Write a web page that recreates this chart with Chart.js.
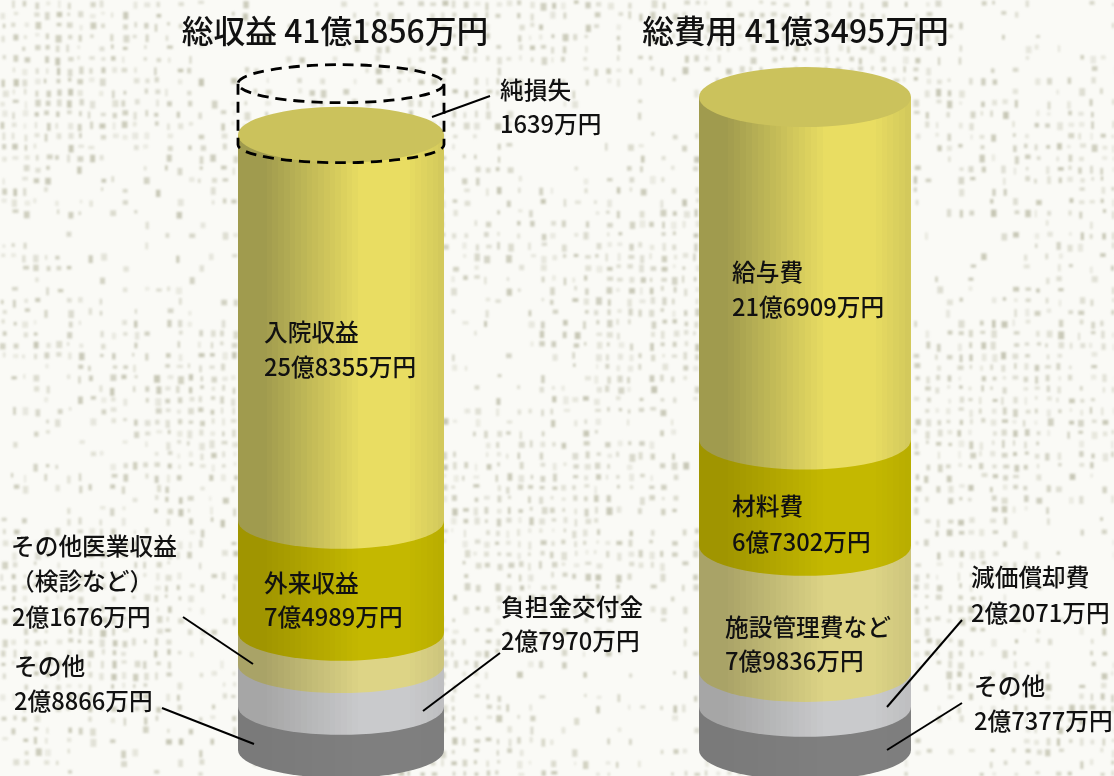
<!DOCTYPE html>
<html lang="ja">
<head>
<meta charset="utf-8">
<title>総収益と総費用</title>
<script src="https://cdn.jsdelivr.net/npm/chart.js@4"></script>
<style>
    html, body { margin: 0; padding: 0; background: #fafaf6; overflow: hidden; }
    canvas { display: block; }
</style>
</head>
<body>
<canvas id="cylinderChart" width="1114" height="776"></canvas>
<script>
// values in 万円, listed from the bottom of each cylinder upward
const categories = ['総収益', '総費用'];
const revenueNames = ['その他', '負担金交付金', 'その他医業収益', '外来収益', '入院収益', '純損失'];
const revenueValues = [28866, 27970, 21676, 74989, 258355, 1639];
const costNames = ['その他', '減価償却費', '施設管理費など', '材料費', '給与費'];
const costValues = [27377, 22071, 79836, 67302, 216909];

const titles = ['総収益 41億1856万円', '総費用 41億3495万円'];
const titleX = [335, 795.5];

const revenueColors = ['#7f7f7f', '#c9cacc', '#ddd486', '#c4b800', '#e9dd62', 'transparent'];
const revenueDark = ['#7a7a7a', '#a6a6a6', '#a9a367', '#a09500', '#a09b4e', 'transparent'];
const costColors = ['#7f7f7f', '#c9cacc', '#ddd486', '#c4b800', '#e9dd62'];
const costDark = ['#7a7a7a', '#a6a6a6', '#a9a367', '#a09500', '#a09b4e'];

// text, left edge, vertical centre
const labels = [
    ['入院収益', 264, 332], ['25億8355万円', 264, 367],
    ['外来収益', 264, 583], ['7億4989万円', 264, 617],
    ['その他医業収益', 11, 546], ['（検診など）', 11, 581], ['2億1676万円', 12, 617],
    ['その他', 14, 666], ['2億8866万円', 14, 701],
    ['純損失', 500, 90], ['1639万円', 500, 124],
    ['負担金交付金', 501, 607], ['2億7970万円', 501, 641],
    ['給与費', 732, 272], ['21億6909万円', 732, 307],
    ['材料費', 732, 506], ['6億7302万円', 732, 542],
    ['施設管理費など', 725, 627], ['7億9836万円', 725, 661],
    ['減価償却費', 971, 577], ['2億2071万円', 971, 613],
    ['その他', 974, 686], ['2億7377万円', 974, 721]
];

const leaders = [
    [432, 117, 490, 96],
    [183, 617, 253, 664],
    [162, 708, 254, 744],
    [500, 653, 423, 711],
    [962, 620, 887, 707],
    [962, 703, 887, 750]
];

const capRadius = [28, 30];
const capColor = '#cbc25c';
const fontName = '"Noto Sans CJK JP", "Noto Sans", sans-serif';

function makeDatasets(names, values, colors, darks, column, axisId, thickness) {
    return names.map((name, i) => ({
        label: name,
        data: column === 0 ? [values[i], null] : [null, values[i]],
        yAxisID: axisId,
        stack: 'cylinder',
        barThickness: thickness,
        backgroundColor: colors[i],
        darkColor: darks[i],
        column: column
    }));
}

function mixColor(a, b, t) {
    const pa = parseInt(a.slice(1), 16), pb = parseInt(b.slice(1), 16);
    const c = [16, 8, 0].map(s => Math.round(((pa >> s) & 255) * (1 - t) + ((pb >> s) & 255) * t));
    return `rgb(${c[0]},${c[1]},${c[2]})`;
}

// how far the side of the cylinder is lit, 0 at the shaded edge
function lightAt(f) {
    if (f < 0.13) return 0;
    if (f < 0.6) return (f - 0.13) / 0.47;
    if (f < 0.82) return 1;
    return 1 - (f - 0.82) * 1.8;
}

function sideGradient(ctx, x0, x1, dark, light) {
    const g = ctx.createLinearGradient(x0, 0, x1, 0);
    const bands = 36;
    for (let i = 0; i < bands; i++) {
        const color = mixColor(dark, light, lightAt((i + 0.5) / bands));
        g.addColorStop(i / bands, color);
        g.addColorStop((i + 1) / bands, color);
    }
    return g;
}

// seeded so every render gives the same weave
function makeLinen(width, height) {
    const cloth = document.createElement('canvas');
    cloth.width = width;
    cloth.height = height;
    const c = cloth.getContext('2d');
    let seed = 20240;
    const next = () => {
        seed = (seed + 0x6D2B79F5) | 0;
        let t = Math.imul(seed ^ (seed >>> 15), 1 | seed);
        t = (t + Math.imul(t ^ (t >>> 7), 61 | t)) ^ t;
        return ((t ^ (t >>> 14)) >>> 0) / 4294967296;
    };
    for (let y = 0; y < height; y += 11) {
        for (let x = 0; x < width; x += 11) {
            // slow drift makes patches of heavier and lighter cloth
            const patch = 0.55 + 0.25 * Math.sin(x / 61 + y / 97) + 0.2 * Math.sin(y / 43 - x / 129);
            const a = next(), w = 2 + next() * 4, h = 3 + next() * 5, ox = next() * 3, oy = next() * 3, k = next();
            if (a > patch) continue;
            c.fillStyle = `rgba(176,176,152,${(0.2 + k * 0.5).toFixed(3)})`;
            c.fillRect(x + ox, y + oy, w, h);
        }
    }
    return cloth;
}

const linenBackground = {
    id: 'linenBackground',
    beforeDraw(chart) {
        const ctx = chart.ctx;
        ctx.save();
        ctx.fillStyle = '#fafaf6';
        ctx.fillRect(0, 0, chart.width, chart.height);
        ctx.filter = 'blur(0.8px)';
        ctx.drawImage(makeLinen(chart.width, chart.height), 0, 0);
        ctx.restore();
    }
};

const cylinderDraw = {
    id: 'cylinderDraw',
    // the flat rectangles are replaced by the curved segments below
    beforeDatasetDraw() {
        return false;
    },
    afterDatasetsDraw(chart) {
        const ctx = chart.ctx;
        const tops = [];
        ctx.save();
        chart.data.datasets.forEach((ds, i) => {
            const bar = chart.getDatasetMeta(i).data[ds.column];
            const ry = capRadius[ds.column];
            const x0 = bar.x - bar.width / 2, x1 = bar.x + bar.width / 2;
            if (ds.backgroundColor === 'transparent') {
                return;
            }
            ctx.beginPath();
            ctx.moveTo(x0, bar.y);
            ctx.lineTo(x0, bar.base);
            ctx.ellipse(bar.x, bar.base, bar.width / 2, ry, 0, Math.PI, 0, true);
            ctx.lineTo(x1, bar.y);
            ctx.closePath();
            ctx.fillStyle = sideGradient(ctx, x0, x1, ds.darkColor, ds.backgroundColor);
            ctx.fill();
            tops[ds.column] = bar;
        });
        tops.forEach((bar, column) => {
            ctx.beginPath();
            ctx.ellipse(bar.x, bar.y, bar.width / 2, capRadius[column], 0, 0, Math.PI * 2);
            ctx.fillStyle = capColor;
            ctx.fill();
        });

        // 純損失 is shown as a dashed ghost ring above the income cylinder
        const rim = tops[0];
        const left = rim.x - rim.width / 2, right = rim.x + rim.width / 2;
        const upper = rim.y - 51, lower = rim.y + 10;
        ctx.strokeStyle = '#000';
        ctx.lineWidth = 2.8;
        ctx.setLineDash([11, 7]);
        ctx.beginPath();
        ctx.ellipse(rim.x, upper, rim.width / 2, 19, 0, 0, Math.PI * 2);
        ctx.stroke();
        ctx.beginPath();
        ctx.moveTo(left, upper);
        ctx.lineTo(left, lower);
        ctx.ellipse(rim.x, lower, rim.width / 2, 18, 0, Math.PI, 0, true);
        ctx.lineTo(right, upper);
        ctx.stroke();
        ctx.setLineDash([]);
        ctx.restore();
    },
    afterDraw(chart) {
        const ctx = chart.ctx;
        ctx.save();
        ctx.strokeStyle = '#000';
        ctx.lineWidth = 2;
        leaders.forEach(l => {
            ctx.beginPath();
            ctx.moveTo(l[0], l[1]);
            ctx.lineTo(l[2], l[3]);
            ctx.stroke();
        });
        ctx.fillStyle = '#111';
        ctx.textBaseline = 'middle';
        ctx.textAlign = 'left';
        ctx.font = `500 23.7px ${fontName}`;
        labels.forEach(l => ctx.fillText(l[0], l[1], l[2]));
        ctx.textAlign = 'center';
        ctx.font = `500 31.8px ${fontName}`;
        titles.forEach((t, i) => ctx.fillText(t, titleX[i], 31));
        ctx.restore();
    }
};

new Chart(document.getElementById('cylinderChart'), {
    type: 'bar',
    data: {
        labels: categories,
        datasets: [
            ...makeDatasets(revenueNames, revenueValues, revenueColors, revenueDark, 0, 'y', 206),
            ...makeDatasets(costNames, costValues, costColors, costDark, 1, 'yCost', 212)
        ]
    },
    options: {
        responsive: false,
        animation: false,
        layout: { padding: { left: 109, right: 77, top: 0, bottom: 26 } },
        scales: {
            x: { stacked: true, display: false },
            y: { stacked: true, display: false, min: 0, max: 502000 },
            yCost: { stacked: true, display: false, min: 0, max: 475000 }
        },
        plugins: {
            legend: { display: false },
            tooltip: { enabled: false }
        }
    },
    plugins: [linenBackground, cylinderDraw]
});
</script>
</body>
</html>
